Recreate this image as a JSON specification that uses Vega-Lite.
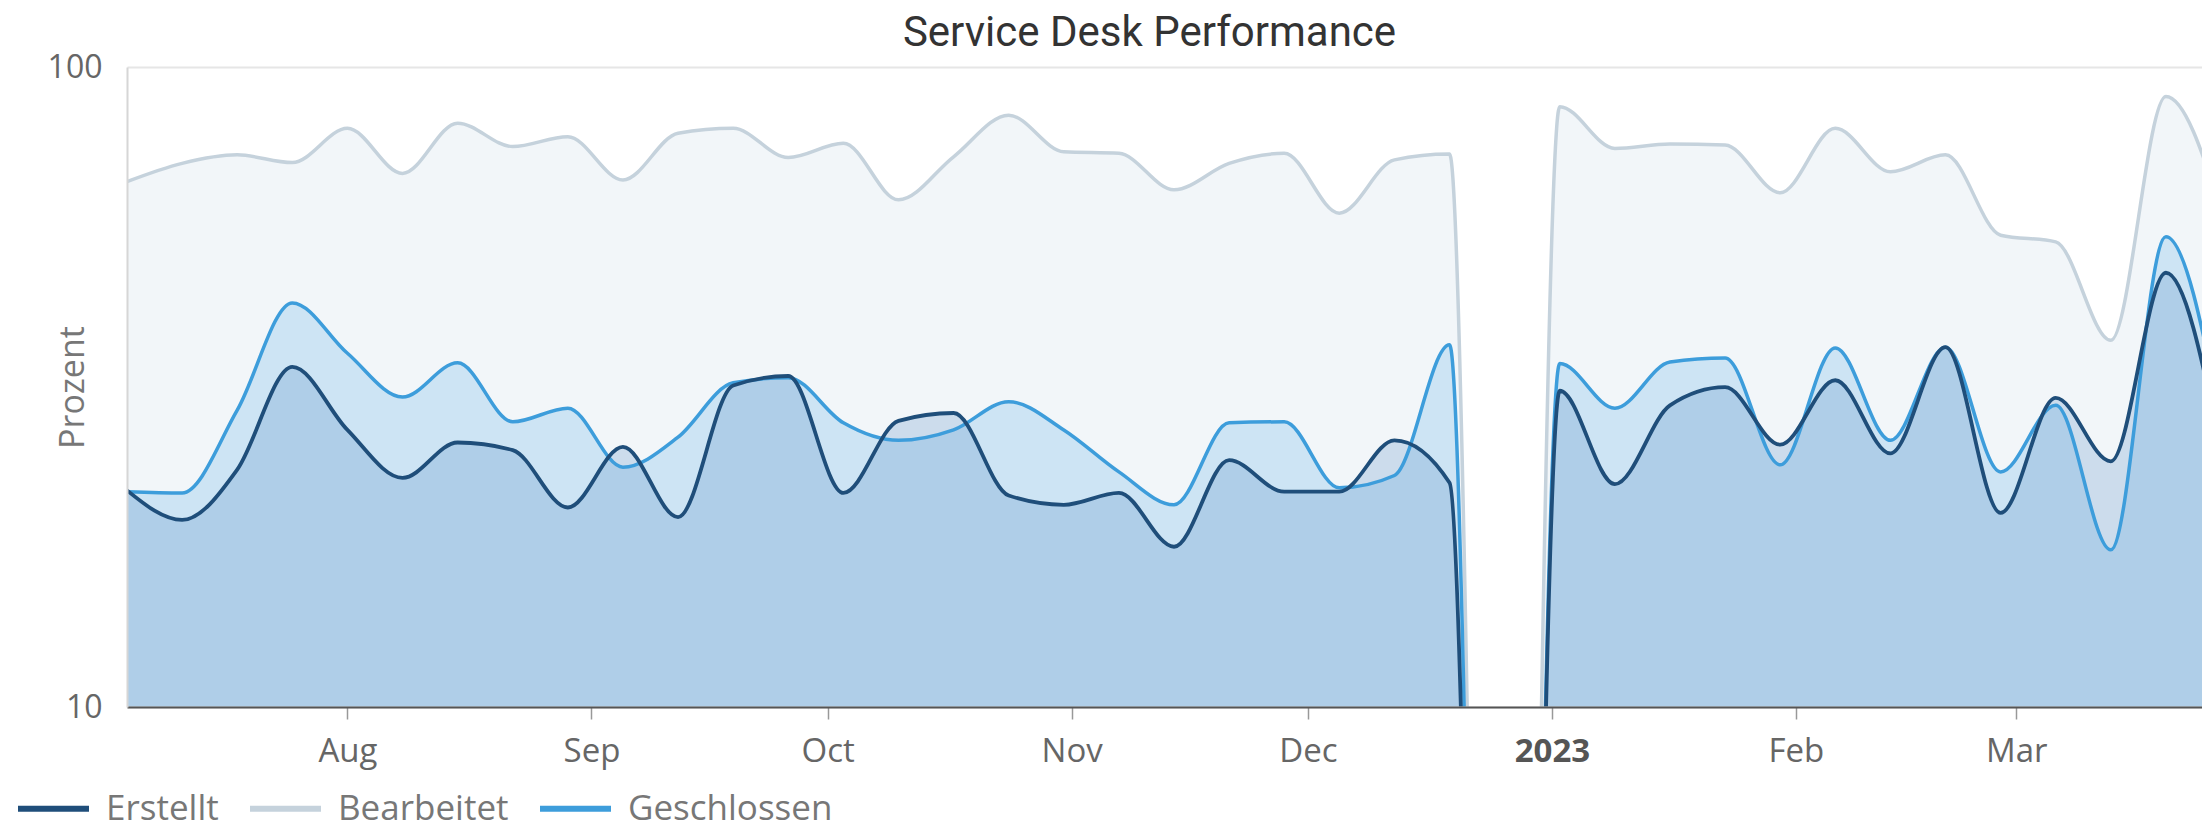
{
  "$schema": "https://vega.github.io/schema/vega-lite/v6.json",
  "width": 2075,
  "height": 640,
  "autosize": {"type": "none"},
  "padding": {"left": 127, "top": 67, "right": 0, "bottom": 118},
  "background": "white",
  "title": {"text": "Service Desk Performance", "anchor": "middle", "frame": "group", "dx": -15, "offset": -4, "fontSize": 42, "font": "Roboto", "fontWeight": "normal", "color": "#333333"},
  "data": {"values": [
    {"date": "2022-07-04", "Erstellt": 21.8, "Bearbeitet": 66.2, "Geschlossen": 21.7},
    {"date": "2022-07-11", "Erstellt": 19.6, "Bearbeitet": 70.7, "Geschlossen": 21.6},
    {"date": "2022-07-18", "Erstellt": 23.5, "Bearbeitet": 72.9, "Geschlossen": 29.1},
    {"date": "2022-07-25", "Erstellt": 34.0, "Bearbeitet": 70.9, "Geschlossen": 42.8},
    {"date": "2022-08-01", "Erstellt": 27.1, "Bearbeitet": 80.2, "Geschlossen": 35.7},
    {"date": "2022-08-08", "Erstellt": 22.8, "Bearbeitet": 68.2, "Geschlossen": 30.5},
    {"date": "2022-08-15", "Erstellt": 25.9, "Bearbeitet": 81.7, "Geschlossen": 34.5},
    {"date": "2022-08-22", "Erstellt": 25.2, "Bearbeitet": 75.1, "Geschlossen": 27.9},
    {"date": "2022-08-29", "Erstellt": 20.5, "Bearbeitet": 77.8, "Geschlossen": 29.3},
    {"date": "2022-09-05", "Erstellt": 25.5, "Bearbeitet": 66.6, "Geschlossen": 23.7},
    {"date": "2022-09-12", "Erstellt": 19.8, "Bearbeitet": 78.8, "Geschlossen": 26.4},
    {"date": "2022-09-19", "Erstellt": 31.8, "Bearbeitet": 80.2, "Geschlossen": 32.1},
    {"date": "2022-09-26", "Erstellt": 32.9, "Bearbeitet": 72.2, "Geschlossen": 32.7},
    {"date": "2022-10-03", "Erstellt": 21.6, "Bearbeitet": 76.0, "Geschlossen": 27.8},
    {"date": "2022-10-10", "Erstellt": 28.0, "Bearbeitet": 62.0, "Geschlossen": 26.1},
    {"date": "2022-10-17", "Erstellt": 28.8, "Bearbeitet": 72.4, "Geschlossen": 27.1},
    {"date": "2022-10-24", "Erstellt": 21.4, "Bearbeitet": 84.1, "Geschlossen": 30.0},
    {"date": "2022-10-31", "Erstellt": 20.7, "Bearbeitet": 73.7, "Geschlossen": 27.1},
    {"date": "2022-11-07", "Erstellt": 21.6, "Bearbeitet": 73.3, "Geschlossen": 23.3},
    {"date": "2022-11-14", "Erstellt": 17.8, "Bearbeitet": 64.3, "Geschlossen": 20.7},
    {"date": "2022-11-21", "Erstellt": 24.3, "Bearbeitet": 70.7, "Geschlossen": 27.8},
    {"date": "2022-11-28", "Erstellt": 21.7, "Bearbeitet": 73.3, "Geschlossen": 27.9},
    {"date": "2022-12-05", "Erstellt": 21.7, "Bearbeitet": 59.1, "Geschlossen": 22.0},
    {"date": "2022-12-12", "Erstellt": 26.1, "Bearbeitet": 71.6, "Geschlossen": 23.0},
    {"date": "2022-12-19", "Erstellt": 22.4, "Bearbeitet": 73.1, "Geschlossen": 36.8},
    {"date": "2022-12-26", "Erstellt": 0.02, "Bearbeitet": 0.02, "Geschlossen": 0.02},
    {"date": "2023-01-02", "Erstellt": 31.2, "Bearbeitet": 86.7, "Geschlossen": 34.4},
    {"date": "2023-01-09", "Erstellt": 22.3, "Bearbeitet": 74.6, "Geschlossen": 29.3},
    {"date": "2023-01-16", "Erstellt": 29.6, "Bearbeitet": 75.8, "Geschlossen": 34.6},
    {"date": "2023-01-23", "Erstellt": 31.6, "Bearbeitet": 75.5, "Geschlossen": 35.1},
    {"date": "2023-01-30", "Erstellt": 25.7, "Bearbeitet": 63.6, "Geschlossen": 23.9},
    {"date": "2023-02-06", "Erstellt": 32.4, "Bearbeitet": 80.2, "Geschlossen": 36.4},
    {"date": "2023-02-13", "Erstellt": 24.9, "Bearbeitet": 68.6, "Geschlossen": 26.1},
    {"date": "2023-02-20", "Erstellt": 36.5, "Bearbeitet": 72.9, "Geschlossen": 36.5},
    {"date": "2023-02-27", "Erstellt": 20.1, "Bearbeitet": 54.6, "Geschlossen": 23.3},
    {"date": "2023-03-06", "Erstellt": 30.4, "Bearbeitet": 53.3, "Geschlossen": 29.6},
    {"date": "2023-03-13", "Erstellt": 24.2, "Bearbeitet": 37.4, "Geschlossen": 17.6},
    {"date": "2023-03-20", "Erstellt": 47.7, "Bearbeitet": 89.9, "Geschlossen": 54.3},
    {"date": "2023-03-27", "Erstellt": 25.2, "Bearbeitet": 60.0, "Geschlossen": 28.1}
  ]},
  "transform": [{"fold": ["Erstellt", "Bearbeitet", "Geschlossen"], "as": ["series", "value"]}],
  "encoding": {
    "x": {
      "field": "date", "type": "temporal",
      "scale": {"type": "utc", "domain": [{"year": 2022, "month": 7, "date": 4, "utc": true}, {"year": 2023, "month": 3, "date": 24, "hours": 14, "utc": true}]},
      "axis": {
        "title": null,
        "values": [
          {"year": 2022, "month": 8, "date": 1, "utc": true},
          {"year": 2022, "month": 9, "date": 1, "utc": true},
          {"year": 2022, "month": 10, "date": 1, "utc": true},
          {"year": 2022, "month": 11, "date": 1, "utc": true},
          {"year": 2022, "month": 12, "date": 1, "utc": true},
          {"year": 2023, "month": 1, "date": 1, "utc": true},
          {"year": 2023, "month": 2, "date": 1, "utc": true},
          {"year": 2023, "month": 3, "date": 1, "utc": true}
        ],
        "labelExpr": "utcFormat(datum.value, '%m') == '01' ? utcFormat(datum.value, '%Y') : utcFormat(datum.value, '%b')",
        "labelFontWeight": {"condition": {"test": "utcFormat(datum.value, '%m') == '01'", "value": "bold"}, "value": "normal"},
        "labelColor": {"condition": {"test": "utcFormat(datum.value, '%m') == '01'", "value": "#555555"}, "value": "#666666"},
        "labelFont": "Open Sans",
        "labelFontSize": 33,
        "labelPadding": 16,
        "labelFlush": false,
        "labelOverlap": false,
        "tickSize": 12,
        "tickColor": "#999999",
        "tickWidth": 1.5,
        "domainColor": "#555555",
        "domainWidth": 2,
        "grid": false,
        "zindex": 1
      }
    },
    "y": {
      "field": "value", "type": "quantitative",
      "scale": {"type": "log", "domain": [10, 100]},
      "axis": {
        "title": "Prozent",
        "values": [10, 100],
        "format": "d",
        "grid": true,
        "gridColor": "#e6e6e6",
        "gridWidth": 2,
        "ticks": false,
        "tickSize": 0,
        "labelPadding": 25,
        "labelFont": "Open Sans",
        "labelFontSize": 32,
        "labelColor": "#666666",
        "labelFlush": false,
        "domainColor": "#d6d6d6",
        "domainWidth": 2,
        "titleFont": "Open Sans",
        "titleFontSize": 34,
        "titleFontWeight": "normal",
        "titleColor": "#777777",
        "titleAngle": -90,
        "titleX": -44,
        "titleY": 320,
        "titleAlign": "center",
        "titleBaseline": "alphabetic",
        "zindex": 1
      }
    }
  },
  "layer": [
    {
      "transform": [{"filter": "datum.series == 'Bearbeitet'"}],
      "mark": {"type": "area", "interpolate": "monotone", "color": "#F2F6F9", "opacity": 1, "clip": true},
      "encoding": {"y2": {"datum": 10}}
    },
    {
      "transform": [{"filter": "datum.series == 'Geschlossen'"}],
      "mark": {"type": "area", "interpolate": "monotone", "color": "#3CA0E1", "opacity": 0.2, "clip": true},
      "encoding": {"y2": {"datum": 10}}
    },
    {
      "transform": [{"filter": "datum.series == 'Erstellt'"}],
      "mark": {"type": "area", "interpolate": "monotone", "color": "#3777B9", "opacity": 0.2, "clip": true},
      "encoding": {"y2": {"datum": 10}}
    },
    {
      "transform": [{"filter": "datum.series == 'Bearbeitet'"}],
      "mark": {"type": "line", "interpolate": "monotone", "strokeWidth": 3.5, "clip": true},
      "encoding": {"color": {"field": "series", "type": "nominal", "scale": {"domain": ["Erstellt", "Bearbeitet", "Geschlossen"], "range": ["#1F4E7A", "#C5D2DC", "#3D9DDB"]}}}
    },
    {
      "transform": [{"filter": "datum.series == 'Geschlossen'"}],
      "mark": {"type": "line", "interpolate": "monotone", "strokeWidth": 3.5, "clip": true},
      "encoding": {"color": {"field": "series", "type": "nominal", "scale": {"domain": ["Erstellt", "Bearbeitet", "Geschlossen"], "range": ["#1F4E7A", "#C5D2DC", "#3D9DDB"]}}}
    },
    {
      "transform": [{"filter": "datum.series == 'Erstellt'"}],
      "mark": {"type": "line", "interpolate": "monotone", "strokeWidth": 3.8, "clip": true},
      "encoding": {"color": {"field": "series", "type": "nominal", "scale": {"domain": ["Erstellt", "Bearbeitet", "Geschlossen"], "range": ["#1F4E7A", "#C5D2DC", "#3D9DDB"]}}}
    }
  ],
  "config": {
    "view": {"stroke": null},
    "legend": {
      "orient": "none",
      "legendX": -112,
      "legendY": 703,
      "direction": "horizontal",
      "title": null,
      "symbolType": "stroke",
      "symbolSize": 5041,
      "symbolStrokeWidth": 6,
      "labelFont": "Open Sans",
      "labelFontSize": 35,
      "labelColor": "#777777",
      "labelOffset": 14,
      "columnPadding": 19,
      "padding": 0,
      "labelLimit": 400
    }
  }
}
